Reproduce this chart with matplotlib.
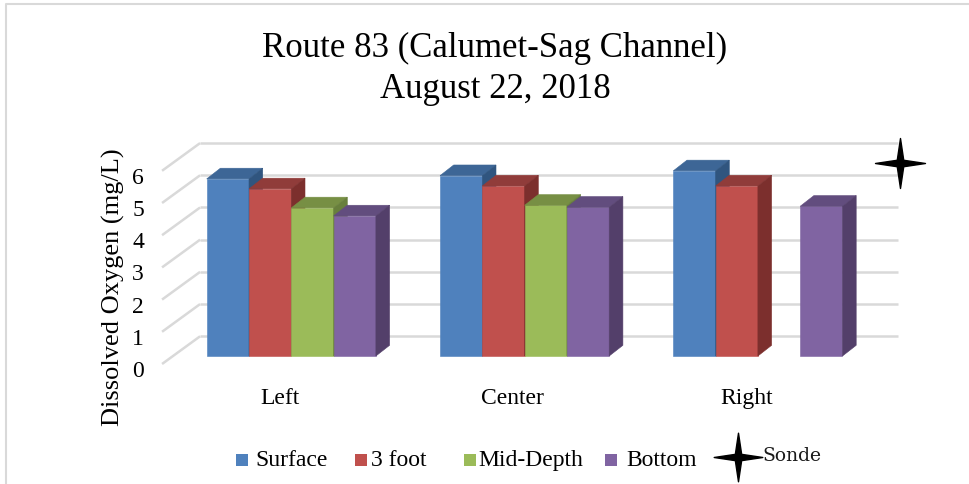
import numpy as np
import matplotlib.pyplot as plt
from matplotlib.patches import Polygon, Rectangle
from matplotlib.path import Path
from matplotlib.lines import Line2D

# data (mg/L)
categories = ['Left', 'Center', 'Right']
series = ['Surface', '3 foot', 'Mid-Depth', 'Bottom']
surface = [5.50, 5.60, 5.75]
three_foot = [5.19, 5.28, 5.28]
mid_depth = [4.60, 4.68, np.nan]
bottom = [4.35, 4.62, 4.65]
sonde = [6.0]
y_ticks = [0, 1, 2, 3, 4, 5, 6]

colors = ['#4F81BD', '#C0504D', '#9BBB59', '#8064A2']
tops = ['#3D6696', '#903C3A', '#778F44', '#624D7E']
sides = ['#30557F', '#7C2F2D', '#687F3C', '#533F6A']
grid_c = '#D9D9D9'

plt.rcParams['font.family'] = ['Liberation Serif', 'DejaVu Serif']

W, H = 969, 485
def fx(px):
    return px / W
def fy(py):
    return 1 - py / H

fig = plt.figure(figsize=(W / 100, H / 100), dpi=100)

# outer frame (top and left edges only visible)
fig.add_artist(Line2D([fx(5.5), fx(5.5), fx(969)], [fy(485), fy(4.5), fy(4.5)],
                      color=grid_c, lw=1.5, transform=fig.transFigure))

ax = fig.add_axes([fx(150), fy(380), fx(960) - fx(150), fy(120) - fy(380)])
ax.set_xlim((150 - 291.3) / 233.3, (960 - 291.3) / 233.3)
ax.set_ylim((357 - 380) / 32.2, (357 - 120) / 32.2)
ax.set_facecolor('none')
for s in ax.spines.values():
    s.set_visible(False)

# pseudo 3d geometry
w = 0.1813      # bar width
dx = 0.0587     # depth offset of bars
dy = 0.332
back_x0, back_x1, back_dy = -0.391, 2.600, 0.612
front_x, front_dy = -0.554, -0.248

# back wall and side wall gridlines
for v in y_ticks:
    ax.plot([back_x0, back_x1], [v + back_dy] * 2, color=grid_c, lw=1.8, zorder=1,
            solid_capstyle='butt')
    ax.plot([front_x, back_x0], [v + front_dy, v + back_dy], color=grid_c, lw=1.8,
            zorder=1, solid_capstyle='butt')

x = np.arange(len(categories))
data = [surface, three_foot, mid_depth, bottom]
for j, vals in enumerate(data):
    pos = x + (j - 1.5) * w
    ax.bar(pos, vals, w, color=colors[j], edgecolor=colors[j], lw=0.4, zorder=2 + 2 * j)
    for p, v in zip(pos, vals):
        if np.isnan(v):
            continue
        l, r = p - w / 2, p + w / 2
        top = Polygon([(l, v), (r, v), (r + dx, v + dy), (l + dx, v + dy)],
                      closed=True, fc=tops[j], ec=tops[j], lw=0.4, zorder=3 + 2 * j)
        side = Polygon([(r, 0), (r + dx, dy), (r + dx, v + dy), (r, v)],
                       closed=True, fc=sides[j], ec=sides[j], lw=0.4, zorder=3 + 2 * j)
        ax.add_patch(top)
        ax.add_patch(side)

# four pointed star marker
a = 0.13
star = Path([(0, 1), (a, a), (1, 0), (a, -a), (0, -1), (-a, -a), (-1, 0), (-a, a), (0, 1)],
            [Path.MOVETO] + [Path.LINETO] * 7 + [Path.CLOSEPOLY])
ax.plot([len(categories) - 0.393], sonde, ls='none', marker=star, ms=36,
        color='black', zorder=20, clip_on=False)

ax.set_yticks(np.array(y_ticks) - 0.37, [str(t) for t in y_ticks])
ax.set_xticks(x - 0.05, categories)
ax.tick_params(axis='y', length=0, pad=4.3, labelsize=17)
ax.tick_params(axis='x', length=0, pad=5.5, labelsize=17)

fig.text(fx(113), fy(287), 'Dissolved Oxygen (mg/L)', rotation=90, fontsize=19,
         ha='center', va='center')
fig.text(fx(495), fy(69), 'Route 83 (Calumet-Sag Channel)\nAugust 22, 2018',
         ha='center', va='center', fontsize=25, linespacing=1.3)

# legend
sq = 12
leg_y = 461
for c, name, sx, tx in zip(colors, series, [242, 361, 470, 611], [255, 371, 478, 626]):
    fig.add_artist(Rectangle((fx(sx - sq / 2), fy(leg_y + sq / 2)), sq / W, sq / H,
                             fc=c, ec='none', transform=fig.transFigure))
    fig.text(fx(tx), fy(leg_y), name, fontsize=17, ha='left', va='center')
fig.add_artist(Line2D([fx(738)], [fy(458)], ls='none', marker=star, ms=35, color='black',
                      transform=fig.transFigure))
fig.text(fx(762), fy(456), 'Sonde', fontsize=13.5, family='DejaVu Serif', ha='left',
         va='center', color='#1a1a1a')

plt.savefig('out.png', dpi=100)
